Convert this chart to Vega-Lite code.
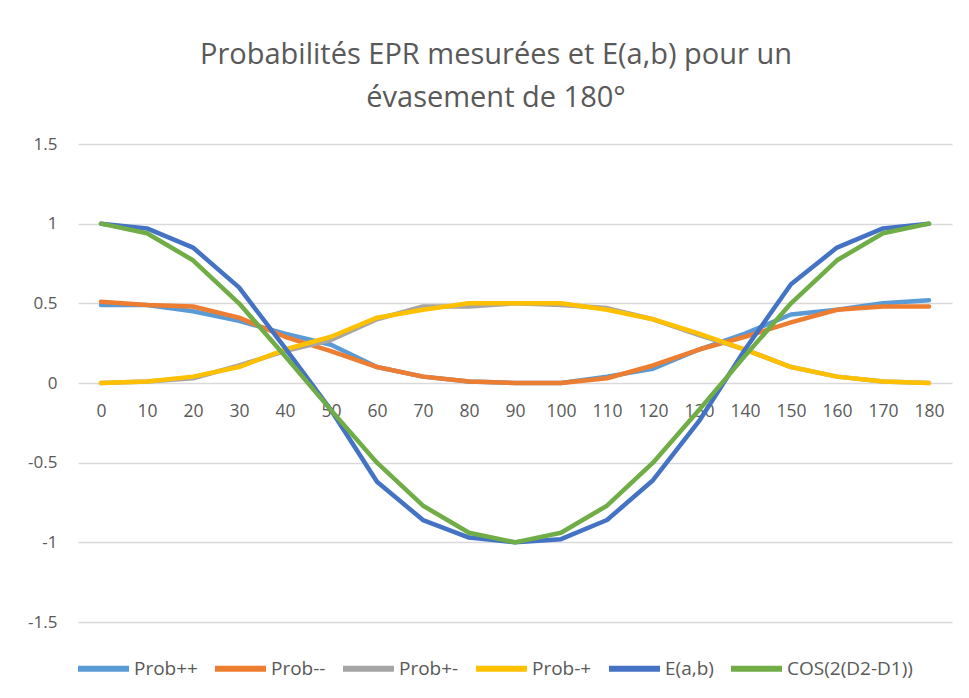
{
  "$schema": "https://vega.github.io/schema/vega-lite/v6.json",
  "autosize": {"type": "none"},
  "width": 874,
  "height": 478,
  "padding": {"left": 78, "top": 144, "right": 17, "bottom": 76},
  "background": "white",
  "title": {
    "text": ["Probabilités EPR mesurées et E(a,b) pour un", "évasement de 180°"],
    "font": "Open Sans",
    "fontSize": 29,
    "fontWeight": "normal",
    "color": "#595959",
    "lineHeight": 43,
    "anchor": "middle",
    "frame": "group",
    "dx": -19,
    "offset": 22
  },
  "config": {
    "view": {"stroke": null},
    "axis": {"labelFont": "Open Sans", "labelColor": "#595959", "labelFontSize": 17, "titleFont": "Open Sans"}
  },
  "data": {
    "values": [
      {"angle":0,"series":"Prob++","value":0.49},{"angle":10,"series":"Prob++","value":0.49},{"angle":20,"series":"Prob++","value":0.45},{"angle":30,"series":"Prob++","value":0.39},{"angle":40,"series":"Prob++","value":0.31},{"angle":50,"series":"Prob++","value":0.24},{"angle":60,"series":"Prob++","value":0.10},{"angle":70,"series":"Prob++","value":0.04},{"angle":80,"series":"Prob++","value":0.01},{"angle":90,"series":"Prob++","value":0},{"angle":100,"series":"Prob++","value":0},{"angle":110,"series":"Prob++","value":0.04},{"angle":120,"series":"Prob++","value":0.09},{"angle":130,"series":"Prob++","value":0.21},{"angle":140,"series":"Prob++","value":0.31},{"angle":150,"series":"Prob++","value":0.43},{"angle":160,"series":"Prob++","value":0.46},{"angle":170,"series":"Prob++","value":0.50},{"angle":180,"series":"Prob++","value":0.52},
      {"angle":0,"series":"Prob--","value":0.51},{"angle":10,"series":"Prob--","value":0.49},{"angle":20,"series":"Prob--","value":0.48},{"angle":30,"series":"Prob--","value":0.41},{"angle":40,"series":"Prob--","value":0.29},{"angle":50,"series":"Prob--","value":0.20},{"angle":60,"series":"Prob--","value":0.10},{"angle":70,"series":"Prob--","value":0.04},{"angle":80,"series":"Prob--","value":0.01},{"angle":90,"series":"Prob--","value":0},{"angle":100,"series":"Prob--","value":0},{"angle":110,"series":"Prob--","value":0.03},{"angle":120,"series":"Prob--","value":0.11},{"angle":130,"series":"Prob--","value":0.21},{"angle":140,"series":"Prob--","value":0.29},{"angle":150,"series":"Prob--","value":0.38},{"angle":160,"series":"Prob--","value":0.46},{"angle":170,"series":"Prob--","value":0.48},{"angle":180,"series":"Prob--","value":0.48},
      {"angle":0,"series":"Prob+-","value":0},{"angle":10,"series":"Prob+-","value":0.01},{"angle":20,"series":"Prob+-","value":0.03},{"angle":30,"series":"Prob+-","value":0.11},{"angle":40,"series":"Prob+-","value":0.20},{"angle":50,"series":"Prob+-","value":0.27},{"angle":60,"series":"Prob+-","value":0.40},{"angle":70,"series":"Prob+-","value":0.48},{"angle":80,"series":"Prob+-","value":0.48},{"angle":90,"series":"Prob+-","value":0.50},{"angle":100,"series":"Prob+-","value":0.49},{"angle":110,"series":"Prob+-","value":0.47},{"angle":120,"series":"Prob+-","value":0.40},{"angle":130,"series":"Prob+-","value":0.30},{"angle":140,"series":"Prob+-","value":0.21},{"angle":150,"series":"Prob+-","value":0.10},{"angle":160,"series":"Prob+-","value":0.04},{"angle":170,"series":"Prob+-","value":0.01},{"angle":180,"series":"Prob+-","value":0},
      {"angle":0,"series":"Prob-+","value":0},{"angle":10,"series":"Prob-+","value":0.01},{"angle":20,"series":"Prob-+","value":0.04},{"angle":30,"series":"Prob-+","value":0.10},{"angle":40,"series":"Prob-+","value":0.21},{"angle":50,"series":"Prob-+","value":0.29},{"angle":60,"series":"Prob-+","value":0.41},{"angle":70,"series":"Prob-+","value":0.46},{"angle":80,"series":"Prob-+","value":0.50},{"angle":90,"series":"Prob-+","value":0.50},{"angle":100,"series":"Prob-+","value":0.50},{"angle":110,"series":"Prob-+","value":0.46},{"angle":120,"series":"Prob-+","value":0.40},{"angle":130,"series":"Prob-+","value":0.31},{"angle":140,"series":"Prob-+","value":0.21},{"angle":150,"series":"Prob-+","value":0.10},{"angle":160,"series":"Prob-+","value":0.04},{"angle":170,"series":"Prob-+","value":0.01},{"angle":180,"series":"Prob-+","value":0},
      {"angle":0,"series":"E(a,b)","value":1},{"angle":10,"series":"E(a,b)","value":0.97},{"angle":20,"series":"E(a,b)","value":0.85},{"angle":30,"series":"E(a,b)","value":0.60},{"angle":40,"series":"E(a,b)","value":0.22},{"angle":50,"series":"E(a,b)","value":-0.17},{"angle":60,"series":"E(a,b)","value":-0.62},{"angle":70,"series":"E(a,b)","value":-0.86},{"angle":80,"series":"E(a,b)","value":-0.97},{"angle":90,"series":"E(a,b)","value":-1},{"angle":100,"series":"E(a,b)","value":-0.98},{"angle":110,"series":"E(a,b)","value":-0.86},{"angle":120,"series":"E(a,b)","value":-0.61},{"angle":130,"series":"E(a,b)","value":-0.24},{"angle":140,"series":"E(a,b)","value":0.21},{"angle":150,"series":"E(a,b)","value":0.62},{"angle":160,"series":"E(a,b)","value":0.85},{"angle":170,"series":"E(a,b)","value":0.97},{"angle":180,"series":"E(a,b)","value":1},
      {"angle":0,"series":"COS(2(D2-D1))","value":1},{"angle":10,"series":"COS(2(D2-D1))","value":0.94},{"angle":20,"series":"COS(2(D2-D1))","value":0.77},{"angle":30,"series":"COS(2(D2-D1))","value":0.5},{"angle":40,"series":"COS(2(D2-D1))","value":0.17},{"angle":50,"series":"COS(2(D2-D1))","value":-0.17},{"angle":60,"series":"COS(2(D2-D1))","value":-0.5},{"angle":70,"series":"COS(2(D2-D1))","value":-0.77},{"angle":80,"series":"COS(2(D2-D1))","value":-0.94},{"angle":90,"series":"COS(2(D2-D1))","value":-1},{"angle":100,"series":"COS(2(D2-D1))","value":-0.94},{"angle":110,"series":"COS(2(D2-D1))","value":-0.77},{"angle":120,"series":"COS(2(D2-D1))","value":-0.5},{"angle":130,"series":"COS(2(D2-D1))","value":-0.17},{"angle":140,"series":"COS(2(D2-D1))","value":0.17},{"angle":150,"series":"COS(2(D2-D1))","value":0.5},{"angle":160,"series":"COS(2(D2-D1))","value":0.77},{"angle":170,"series":"COS(2(D2-D1))","value":0.94},{"angle":180,"series":"COS(2(D2-D1))","value":1}
    ]
  },
  "mark": {"type": "line", "strokeWidth": 4.5, "strokeJoin": "round", "strokeCap": "round"},
  "encoding": {
    "x": {
      "field": "angle",
      "type": "ordinal",
      "sort": "ascending",
      "scale": {"type": "point", "padding": 0.5},
      "axis": {
        "title": null,
        "labelAngle": 0,
        "offset": -239,
        "domain": false,
        "ticks": false,
        "grid": false,
        "labelPadding": 19,
        "labelFontSize": 17.5
      }
    },
    "y": {
      "field": "value",
      "type": "quantitative",
      "scale": {"domain": [-1.5, 1.5], "nice": false, "zero": false},
      "axis": {
        "title": null,
        "values": [-1.5, -1, -0.5, 0, 0.5, 1, 1.5],
        "labelExpr": "'' + datum.value",
        "domain": false,
        "ticks": false,
        "grid": true,
        "gridColor": "#D9D9D9",
        "gridWidth": 1.3,
        "labelPadding": 21
      }
    },
    "color": {
      "field": "series",
      "type": "nominal",
      "sort": null,
      "scale": {
        "domain": ["Prob++", "Prob--", "Prob+-", "Prob-+", "E(a,b)", "COS(2(D2-D1))"],
        "range": ["#5B9BD5", "#ED7D31", "#A5A5A5", "#FFC000", "#4472C4", "#70AD47"]
      },
      "legend": {
        "title": null,
        "orient": "none",
        "legendX": -3,
        "legendY": 496,
        "direction": "horizontal",
        "symbolType": "stroke",
        "symbolSize": 2600,
        "symbolStrokeWidth": 6,
        "labelFont": "Open Sans",
        "labelFontSize": 19,
        "labelColor": "#595959",
        "labelOffset": 2,
        "columnPadding": 5
      }
    }
  }
}
